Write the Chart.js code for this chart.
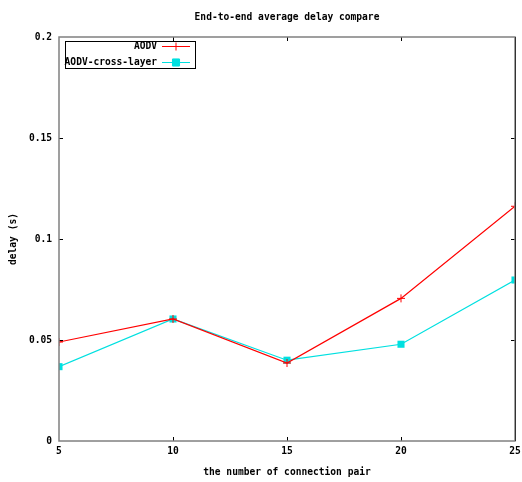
<!DOCTYPE html>
<html>
<head>
<meta charset="utf-8">
<script src="https://cdn.jsdelivr.net/npm/chart.js@4/dist/chart.umd.min.js"></script>
<style>
  body { margin: 0; background: #fff; }
  #wrap { width: 522px; height: 482px; }
</style>
</head>
<body>
<div id="wrap"><canvas id="delay-chart" width="522" height="482"></canvas></div>
<script>
// values
const connectionPairs = [5, 10, 15, 20, 25];
const aodvDelay = [0.049, 0.0604, 0.0386, 0.0706, 0.1162];
const crossLayerDelay = [0.0368, 0.0604, 0.0400, 0.0479, 0.0797];
const yTickLabels = ["0", "0.05", "0.1", "0.15", "0.2"];
const yTickValues = [0, 0.05, 0.1, 0.15, 0.2];
const titleText = "End-to-end average delay compare";

const FONT = "'DejaVu Sans Mono', monospace";
const FSIZE = 9.6;

function toPoints(xs, ys) {
  return xs.map((x, i) => ({ x: x, y: ys[i] }));
}

// gnuplot-like frame, inward mirrored ticks, title and boxed legend
const gnuplotLook = {
  id: "gnuplotLook",
  afterDraw(chart) {
    const ctx = chart.ctx;
    const a = chart.chartArea;
    const xs = chart.scales.x;
    const ys = chart.scales.y;
    ctx.save();

    // ticks
    ctx.strokeStyle = "#000";
    ctx.lineWidth = 1;
    const t = 4;
    xs.ticks.forEach((tk) => {
      const px = Math.round(xs.getPixelForValue(tk.value)) + 0.5;
      if (px <= a.left + 1 || px >= a.right - 1) return;
      ctx.beginPath();
      ctx.moveTo(px, a.bottom); ctx.lineTo(px, a.bottom - t);
      ctx.moveTo(px, a.top); ctx.lineTo(px, a.top + t);
      ctx.stroke();
    });
    ys.ticks.forEach((tk) => {
      const py = Math.round(ys.getPixelForValue(tk.value)) + 0.5;
      if (py <= a.top + 1 || py >= a.bottom - 1) return;
      ctx.beginPath();
      ctx.moveTo(a.left, py); ctx.lineTo(a.left + t, py);
      ctx.moveTo(a.right, py); ctx.lineTo(a.right - t, py);
      ctx.stroke();
    });

    // frame
    ctx.strokeStyle = "#808080";
    ctx.lineWidth = 1.5;
    ctx.strokeRect(a.left, a.top, a.right - a.left, a.bottom - a.top);
    ctx.strokeStyle = "#333";
    ctx.lineWidth = 1;
    ctx.beginPath();
    ctx.moveTo(a.right + 0.5, a.top);
    ctx.lineTo(a.right + 0.5, a.bottom);
    ctx.stroke();

    // title
    ctx.fillStyle = "#000";
    ctx.font = "bold " + FSIZE + "px " + FONT;
    ctx.textAlign = "center";
    ctx.textBaseline = "middle";
    ctx.fillText(titleText, (a.left + a.right) / 2, 17);

    // legend
    const bx = a.left + 6, by = a.top + 4, bw = 130, bh = 27;
    ctx.fillStyle = "#fff";
    ctx.fillRect(bx, by, bw, bh);
    ctx.strokeStyle = "#000";
    ctx.lineWidth = 1;
    ctx.strokeRect(bx + 0.5, by + 0.5, bw, bh);
    chart.data.datasets.forEach((ds, i) => {
      const ry = by + 5 + i * 16;
      ctx.fillStyle = "#000";
      ctx.textAlign = "right";
      ctx.fillText(ds.label, bx + 92, ry);
      ctx.strokeStyle = ds.borderColor;
      ctx.lineWidth = 1;
      ctx.beginPath();
      ctx.moveTo(bx + 97, ry + 0.5);
      ctx.lineTo(bx + 125, ry + 0.5);
      ctx.stroke();
      ctx.fillStyle = ds.pointBackgroundColor;
      Chart.helpers.drawPoint(ctx, {
        pointStyle: ds.pointStyle,
        radius: ds.pointRadius,
        rotation: 0,
        borderWidth: 1,
      }, bx + 111, ry + 0.5);
      if (ds.pointStyle === "rect") ctx.fill();
    });
    ctx.restore();
  },
};

const tickFont = { family: FONT, size: FSIZE, weight: "bold" };

let config = {
  type: "line",
  data: {
    datasets: [
      {
        label: "AODV",
        data: toPoints(connectionPairs, aodvDelay),
        borderColor: "#ff0000",
        backgroundColor: "#ff0000",
        pointBackgroundColor: "#ff0000",
        pointBorderColor: "#ff0000",
        pointStyle: "cross",
        pointRadius: 4,
        pointBorderWidth: 1,
        borderWidth: 1.2,
        tension: 0,
        fill: false,
      },
      {
        label: "AODV-cross-layer",
        data: toPoints(connectionPairs, crossLayerDelay),
        borderColor: "#00e0e0",
        backgroundColor: "#00e0e0",
        pointBackgroundColor: "#00e0e0",
        pointBorderColor: "#00e0e0",
        pointStyle: "rect",
        pointRadius: 5,
        pointBorderWidth: 0,
        borderWidth: 1.2,
        tension: 0,
        fill: false,
      },
    ],
  },
  options: {
    responsive: false,
    animation: false,
    layout: { padding: { top: 37, right: 7, left: 0, bottom: 0 } },
    plugins: {
      legend: { display: false },
      title: { display: false },
      tooltip: { enabled: false },
    },
    scales: {
      x: {
        type: "linear",
        min: connectionPairs[0],
        max: connectionPairs[connectionPairs.length - 1],
        afterFit: (s) => { s.height = 41; s.paddingLeft = 0; s.paddingRight = 0; },
        afterBuildTicks: (s) => { s.ticks = connectionPairs.map((v) => ({ value: v })); },
        ticks: {
          autoSkip: false,
          maxRotation: 0,
          padding: 5,
          color: "#000",
          font: tickFont,
          callback: (v) => String(v),
        },
        grid: { drawOnChartArea: false, drawTicks: false },
        border: { display: false },
        title: {
          display: true,
          text: "the number of connection pair",
          color: "#000",
          font: tickFont,
          padding: { top: 0, bottom: 4 },
        },
      },
      y: {
        min: 0,
        max: 0.2,
        afterFit: (s) => { s.width = 59; s.paddingTop = 0; s.paddingBottom = 0; },
        afterBuildTicks: (s) => { s.ticks = yTickValues.map((v) => ({ value: v })); },
        ticks: {
          padding: 7,
          color: "#000",
          font: tickFont,
          callback: (v) => yTickLabels[yTickValues.indexOf(v)],
        },
        grid: { drawOnChartArea: false, drawTicks: false },
        border: { display: false },
        title: {
          display: true,
          text: "delay (s)",
          color: "#000",
          font: tickFont,
          padding: { top: 8, bottom: 0 },
        },
      },
    },
  },
  plugins: [gnuplotLook],
};

let ctx = document.getElementById("delay-chart").getContext("2d");
new Chart(ctx, config);
</script>
</body>
</html>
